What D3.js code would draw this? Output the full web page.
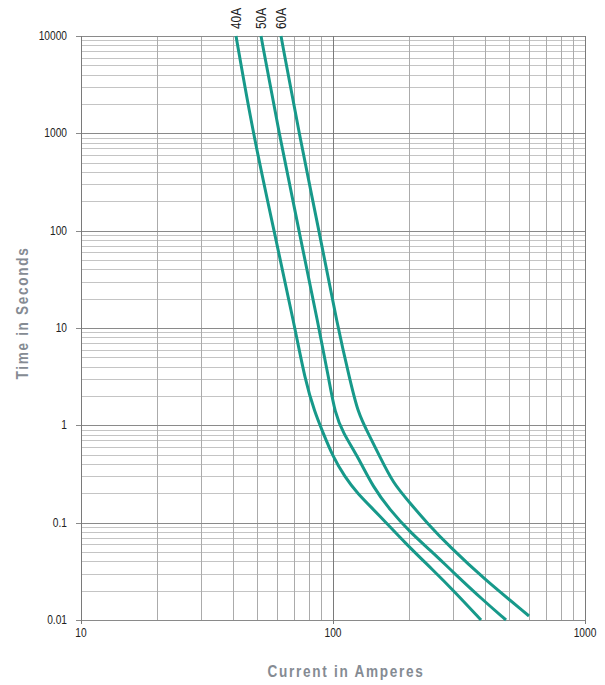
<!DOCTYPE html>
<html>
<head>
<meta charset="utf-8">
<script src="https://cdn.jsdelivr.net/npm/d3@7"></script>
<style>
    body { margin: 0; background: #fff; }
    svg text { font-family: "Liberation Sans", Arial, sans-serif; }
</style>
</head>
<body>
<svg id="chart" width="605" height="685"></svg>
<script>
// fuse ratings (current in A, time in s)
const ratings = ['40A', '50A', '60A'];
const amps_40 = [41.22, 48.14, 58.33, 70.68, 77.45, 84.83, 90.43, 100, 111.6, 124.5, 149.5, 196.7, 249.5, 299.4, 386.7];
const secs_40 = [10000, 1000, 100, 10, 2.922, 1.339, 0.895, 0.4727, 0.2944, 0.2017, 0.1257, 0.0589, 0.0326, 0.0203, 0.01];
const amps_50 = [51.80, 61.05, 73.29, 87.99, 96.4, 101.8, 109.6, 125.7, 144.1, 168.4, 202.1, 242.7, 299.4, 393.8, 485.9];
const secs_50 = [10000, 1000, 100, 10, 2.922, 1.339, 0.834, 0.4727, 0.2324, 0.1349, 0.0802, 0.0524, 0.0311, 0.016, 0.01];
const amps_60 = [62.18, 73.29, 87.99, 104.6, 116.8, 125.7, 137.7, 153.7, 173.0, 202.1, 236.1, 291.3, 393.8, 599.5];
const secs_60 = [10000, 1000, 100, 10, 2.922, 1.339, 0.834, 0.4727, 0.2555, 0.1592, 0.0992, 0.0562, 0.027, 0.011];
const x_ticks = [10, 100, 1000];
const y_ticks = [0.01, 0.1, 1, 10, 100, 1000, 10000];

const series = [
    {name: ratings[0], amps: amps_40, secs: secs_40},
    {name: ratings[1], amps: amps_50, secs: secs_50},
    {name: ratings[2], amps: amps_60, secs: secs_60}
];

const plot_l = 81, plot_r = 585, plot_t = 36, plot_b = 620;
const narrow = 'scale(0.85,1)'; // condensed look, no narrow font installed
const svg = d3.select('svg#chart');

let x = d3.scaleLog().domain([10, 1000]).range([plot_l, plot_r]);
let y = d3.scaleLog().domain([0.01, 10000]).range([plot_b, plot_t]);

// minor values inside each decade
let minor_x = [];
for (let d = 10; d < 1000; d *= 10)
    for (let k = 2; k <= 9; k++) minor_x.push(d * k);
let minor_y = [];
for (let d = 0.01; d < 9999; d *= 10)
    for (let k = 2; k <= 9; k++) minor_y.push(d * k);

let grid = svg.append('g').attr('id', 'grid');
grid.selectAll('line.hminor')
    .data(minor_y)
    .enter()
    .append('line')
    .attr('x1', plot_l).attr('x2', plot_r)
    .attr('y1', d => Math.round(y(d)) + 0.5).attr('y2', d => Math.round(y(d)) + 0.5)
    .style('stroke', '#c4c4c4');
grid.selectAll('line.vminor')
    .data(minor_x)
    .enter()
    .append('line')
    .attr('y1', plot_t).attr('y2', plot_b)
    .attr('x1', d => Math.round(x(d)) + 0.5).attr('x2', d => Math.round(x(d)) + 0.5)
    .style('stroke', '#ababab');
grid.selectAll('line.hmajor')
    .data(y_ticks)
    .enter()
    .append('line')
    .attr('x1', plot_l - 5).attr('x2', plot_r)
    .attr('y1', d => Math.round(y(d)) + 0.5).attr('y2', d => Math.round(y(d)) + 0.5)
    .style('stroke', '#8a8a8a');
grid.selectAll('line.vmajor')
    .data(x_ticks)
    .enter()
    .append('line')
    .attr('y1', plot_t).attr('y2', plot_b + 4)
    .attr('x1', d => Math.round(x(d)) + 0.5).attr('x2', d => Math.round(x(d)) + 0.5)
    .style('stroke', '#7a7a7a');

// tick labels
svg.append('g').selectAll('text')
    .data(y_ticks)
    .enter()
    .append('text')
    .attr('transform', d => 'translate(67,' + (y(d) + 4) + ') ' + narrow)
    .attr('text-anchor', 'end')
    .style('font-size', '12px')
    .style('fill', '#222')
    .text(d => d3.format('~g')(d));
svg.append('g').selectAll('text')
    .data(x_ticks)
    .enter()
    .append('text')
    .attr('transform', d => 'translate(' + x(d) + ',637) ' + narrow)
    .attr('text-anchor', 'middle')
    .style('font-size', '12px')
    .style('fill', '#222')
    .text(d => d);

// curves
let line = d3.line()
    .x(d => x(d[0]))
    .y(d => y(d[1]))
    .curve(d3.curveBasis);
let curves = svg.append('g').attr('id', 'curves');
series.forEach(s => {
    let pts = s.amps.map((a, i) => [a, s.secs[i]]);
    curves.append('path')
        .attr('d', line(pts))
        .style('fill', 'none')
        .style('stroke', '#17998a')
        .style('stroke-width', 3);
    curves.append('text')
        .attr('transform', 'translate(' + (x(s.amps[0]) + 5) + ',29) rotate(-90) ' + narrow)
        .style('font-size', '14px')
        .style('fill', '#222')
        .text(s.name);
});

// axis titles
svg.append('text')
    .attr('transform', 'translate(346,677) ' + narrow)
    .attr('text-anchor', 'middle')
    .style('font-size', '16px')
    .style('font-weight', 'bold')
    .style('letter-spacing', '2px')
    .style('fill', '#858b93')
    .text('Current in Amperes');
svg.append('text')
    .attr('transform', 'translate(28,313) rotate(-90) ' + narrow)
    .attr('text-anchor', 'middle')
    .style('font-size', '16px')
    .style('font-weight', 'bold')
    .style('letter-spacing', '2px')
    .style('fill', '#858b93')
    .text('Time in Seconds');
</script>
</body>
</html>
